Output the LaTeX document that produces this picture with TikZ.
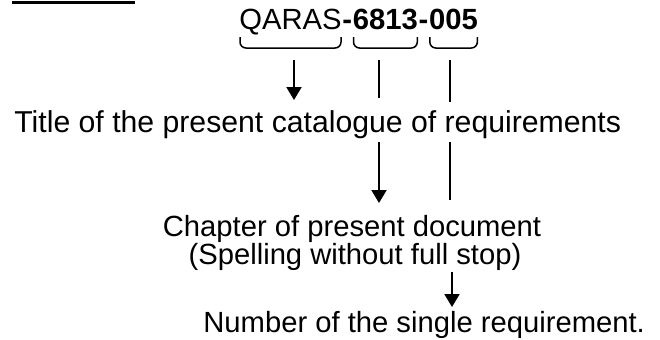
\documentclass[tikz,border=0pt]{standalone}
\usepackage{fontspec}
\setmainfont{Liberation Sans}
\usetikzlibrary{positioning, arrows.meta, calc}
\tikzset{
>={Triangle[width=7.5pt,length=6.5pt]}, % solid triangle heads
every node/.style={inner sep=0pt, font=\fontsize{14.6pt}{14pt}\selectfont}, % plain text labels
code/.style={font=\fontsize{14.6pt}{14pt}\selectfont\bfseries}, % bold part of the number
pointer/.style={line width=1pt}, % the vertical leaders
bracket/.style={line width=0.75pt, rounded corners=3pt}, % the brackets under the number
}
\begin{document}
\begin{tikzpicture}[x=0.5pt, y=-0.5pt]
                \useasboundingbox (0,0) rectangle (660,339);
                \draw[line width=1.5pt] (12,2.5) -- (135,2.5);
                \node[anchor=base west] (qaras) at (239,29) {QARAS};
                \node[code, anchor=base west] (dash1) at (qaras.base east) {-};
                \node[code, anchor=base west] (chap) at (dash1.base east) {6813};
                \node[code, anchor=base west] (dash2) at (chap.base east) {-};
                \node[code, anchor=base west] (num) at (dash2.base east) {005};
                \node[anchor=base west, font=\fontsize{15.1pt}{15pt}\selectfont] (title) at (14,132) {Title of the present catalogue of requirements};
                \node[anchor=base] (chapter) at (352,236) {Chapter of present document};
                \node[anchor=base] (spelling) at (355,264) {(Spelling without full stop)};
                \node[anchor=base west] (number) at (203,332) {Number of the single requirement.};
                \draw[bracket] ($(qaras.base west)+(1,8)$) -- ++(0,11) -| ($(qaras.base east)+(-1,8)$);
                \draw[bracket] ($(chap.base west)+(1,8)$) -- ++(0,11) -| ($(chap.base east)+(-1,8)$);
                \draw[bracket] ($(num.base west)+(1,8)$) -- ++(0,11) -| ($(num.base east)+(-1,8)$);
                \coordinate (q1) at (294,60);
                \coordinate (q2) at (294,100);
                \coordinate (c1) at (379,60);
                \coordinate (c2) at (379,98);
                \coordinate (c3) at (379,142);
                \coordinate (c4) at (379,203);
                \coordinate (n1) at (450,60);
                \coordinate (n2) at (450,102);
                \coordinate (n3) at (450,142);
                \coordinate (n4) at (450,200);
                \coordinate (n5) at (452,272);
                \coordinate (n6) at (452,307);
                \draw[pointer, ->] (q1) -- (q2);
                \draw[pointer] (c1) -- (c2);
                \draw[pointer, ->] (c3) -- (c4);
                \draw[pointer] (n1) -- (n2);
                \draw[pointer] (n3) -- (n4);
                \draw[pointer, ->] (n5) -- (n6);
\end{tikzpicture}
\end{document}
